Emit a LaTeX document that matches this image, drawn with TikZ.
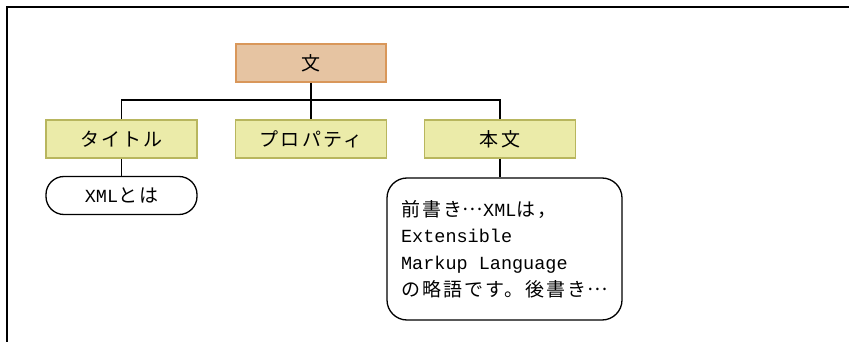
\documentclass[tikz,border=0pt]{standalone}
\usepackage{fontspec}
\newfontfamily\jf[LetterSpace=11]{Noto Sans CJK JP}
\newfontfamily\mf{Liberation Mono}
\newcommand{\mytxt}[1]{{\mf\fontsize{18.5}{26.7}\selectfont #1}}
\newcommand{\dotsj}{\makebox[1.1em][c]{\raisebox{0.3em}{…}}}
\definecolor{orfill}{HTML}{E6C4A2}
\definecolor{ordraw}{HTML}{D9975A}
\definecolor{khfill}{HTML}{EBEBA9}
\definecolor{khdraw}{HTML}{B8B65E}
\begin{document}
\begin{tikzpicture}[x=1pt,y=-1pt,
  every node/.style={font=\fontsize{19}{26.7}\selectfont\jf, inner sep=0pt},
  topbox/.style={draw=ordraw, fill=orfill, line width=1.5pt, minimum width=150pt, minimum height=38pt},
  midbox/.style={draw=khdraw, fill=khfill, line width=1.5pt, minimum width=151pt, minimum height=38pt},
  capsule/.style={draw=black, fill=white, line width=1.3pt, rounded corners=18pt, minimum width=151pt, minimum height=38pt},
  textbox/.style={draw=black, fill=white, line width=1.3pt, rounded corners=20pt, minimum width=235pt, minimum height=142pt, align=left},
  conn/.style={draw=black, line width=1.4pt},
  frame/.style={draw=black, line width=2pt}]
\useasboundingbox (0,0) rectangle (849,342);
\draw[frame] (7,342) -- (7,7) -- (849,7);
\node[topbox] (top) at (311,63) {文};
\node[midbox] (t1) at (121.5,139) {タイトル};
\node[midbox] (t2) at (311,139) {プロパティ};
\node[midbox] (t3) at (500,139) {本文};
\node[capsule] (c1) at (121.5,195.5) {\mytxt{XML}とは};
\node[textbox] (big) at (504.5,249) {前書き\dotsj\mytxt{XML}は，\\
\mytxt{Extensible}\\
\mytxt{Markup Language}\\
の略語です。後書き\dotsj};
\coordinate (bar) at (311,100);
\draw[conn] (t1.north) -- (t1.north |- bar) -- (t3.north |- bar) -- (t3.north);
\draw[conn] (top.south) -- (t2.north);
\draw[conn] (t1.south) -- (c1.north);
\draw[conn] (t3.south) -- (t3.south |- big.north);
\end{tikzpicture}
\end{document}
